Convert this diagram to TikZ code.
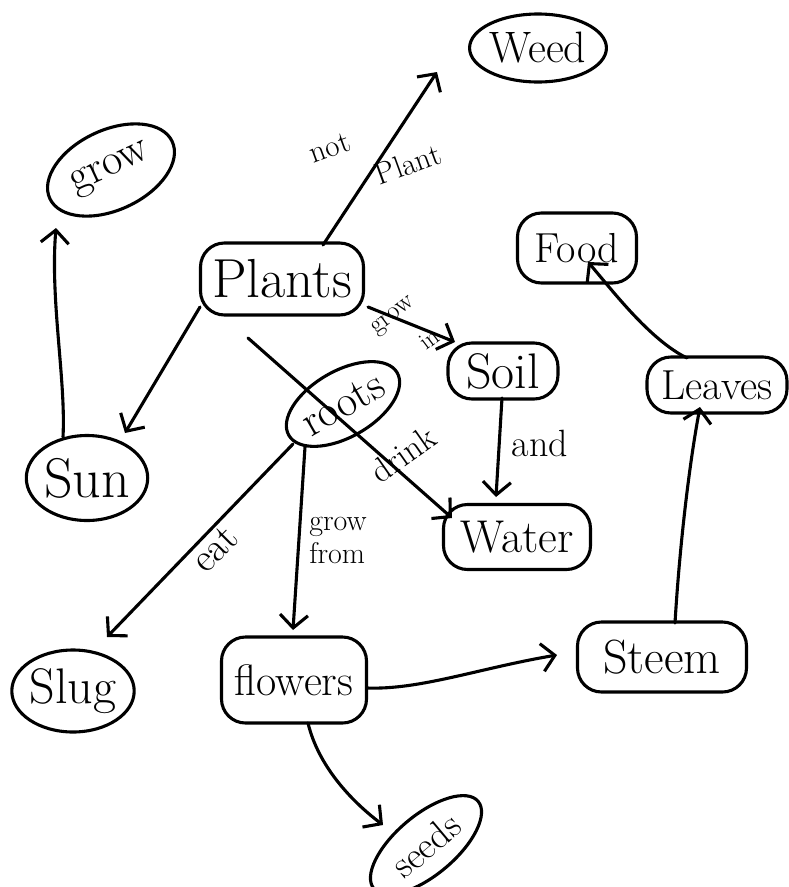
\documentclass[tikz,border=0pt]{standalone}
\usetikzlibrary{shapes.geometric,arrows.meta}
\begin{document}
\begin{tikzpicture}[x=1pt,y=-1pt,line width=3.1pt,line cap=round,line join=round,
  rbox/.style={draw, rectangle, rounded corners=24pt, inner sep=0pt},
  ell/.style={draw, ellipse, inner sep=0pt},
  fs/.style={font=\fontsize{#1}{#1}\selectfont},
  conn/.style={-{Straight Barb[length=13pt,width=28pt,line width=3.1pt]}},
  lab/.style={inner sep=0pt, font=\fontsize{#1}{33}\selectfont}
]
\useasboundingbox (0,0) rectangle (788,887);

% concepts
\node[ell, minimum width=122pt, minimum height=68pt, fs=44] (weed) at (538,48) {Weed};
\node[ell, minimum width=135pt, minimum height=80pt, rotate=25, fs=44] (grow) at (111,170) {grow};
\node[rbox, minimum width=163pt, minimum height=72pt, fs=55] (plants) at (282,279) {Plants};
\node[rbox, minimum width=119pt, minimum height=70pt, fs=42] (food) at (577,248) {Food};
\node[rbox, minimum width=110pt, minimum height=56pt, fs=50] (soil) at (503,371) {Soil};
\node[rbox, minimum width=140pt, minimum height=56pt, fs=42] (leaves) at (717,385) {Leaves};
\node[ell, minimum width=120pt, minimum height=66pt, rotate=30, fs=44] (roots) at (343,404) {roots};
\node[ell, minimum width=118pt, minimum height=85pt, fs=56] (sun) at (87,478) {Sun};
\node[rbox, minimum width=147pt, minimum height=65pt, fs=46] (water) at (517,537) {Water};
\node[ell, minimum width=117pt, minimum height=82pt, fs=50] (slug) at (73,691) {Slug};
\node[rbox, minimum width=145pt, minimum height=86pt, fs=44] (flowers) at (294,680) {flowers};
\node[rbox, minimum width=169pt, minimum height=70pt, fs=48] (steem) at (662,657) {Steem};
\node[ell, minimum width=136pt, minimum height=60pt, rotate=40, fs=38] (seeds) at (426,845) {seeds};

% connectors
\draw[conn] ([shift={(41,-34)}]plants.center) -- ([shift={(-101,24)}]weed.center);
\draw[conn] ([shift={(-82,28)}]plants.center) -- ([shift={(38,-45)}]sun.center);
\draw[conn] ([shift={(-24,-41)}]sun.center) .. controls (66,380) and (50,300) .. ([shift={(-55,58)}]grow.center);
\draw[conn] ([shift={(86,28)}]plants.center) -- ([shift={(-48,-29)}]soil.center);
\draw[conn] ([shift={(-34,59)}]plants.center) -- ([shift={(-65,-19)}]water.center);
\draw[conn] ([shift={(-1,27)}]soil.center) -- ([shift={(-21,-40)}]water.center);
\draw[conn] ([shift={(-50,40)}]roots.center) -- ([shift={(34,-54)}]slug.center);
\draw[conn] ([shift={(-38,43)}]roots.center) -- ([shift={(-1,-50)}]flowers.center);
\draw[conn] ([shift={(73,8)}]flowers.center) .. controls (420,690) and (480,668) .. ([shift={(-105,-2)}]steem.center);
\draw[conn] ([shift={(14,43)}]flowers.center) .. controls (318,765) and (350,800) .. ([shift={(-43,-20)}]seeds.center);
\draw[conn] ([shift={(13,-34)}]steem.center) .. controls (680,540) and (690,460) .. ([shift={(-17,22)}]leaves.center);
\draw[conn] ([shift={(-30,-27)}]leaves.center) .. controls (650,340) and (612,290) .. ([shift={(11,14)}]food.center);

% connector labels
\node[lab=31, rotate=20] (lnot) at (330,148) {not};
\node[lab=31, rotate=20] (lplant) at (408,164) {Plant};
\node[lab=26, rotate=37] (lgrowin) at (394,317) {grow};
\node[lab=24, rotate=37] (lin) at (429,339) {in};
\node[lab=34, rotate=35] (ldrink) at (403,454) {drink};
\node[lab=38] (land) at (540,443) {and};
\node[lab=40, rotate=45] (leat) at (215,549) {eat};
\node[lab=30, align=left] (lgf) at (338,540) {grow\\from};
\end{tikzpicture}
\end{document}
